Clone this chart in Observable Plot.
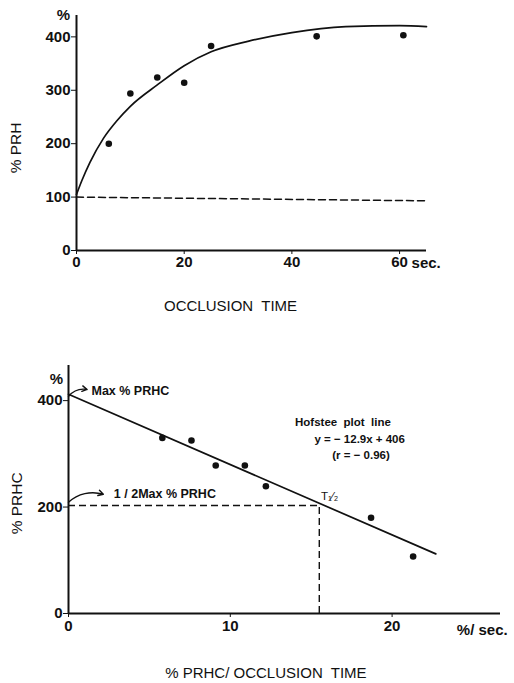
<!DOCTYPE html>
<html><head><meta charset="utf-8">
<script src="https://cdn.jsdelivr.net/npm/d3@7"></script>
<script src="https://cdn.jsdelivr.net/npm/@observablehq/plot@0.6"></script>
<style>
body{margin:0;background:#fff;}
#c svg{display:block}
</style></head><body><div id="c"></div>
<script>
// ---- Top chart: % PRH vs occlusion time ----
const occTime = [6, 10, 15, 20, 25, 44.6, 60.7];
const prhValues = [200, 294, 324, 314, 383, 401, 403];
const fitTime = [0, 1, 2.5, 5, 7.5, 10, 15, 20, 25, 32, 40, 50, 60, 65];
const fitPrh = [105, 131, 165, 210, 243, 270, 310, 346, 372, 392, 408, 419, 421, 419];
const baseTime = [0, 65];
const basePrh = [100, 93];
const topXTicks = [0, 20, 40, 60];
const topYTicks = [0, 100, 200, 300, 400];

// ---- Bottom chart: Hofstee plot ----
const rateValues = [5.8, 7.6, 9.1, 10.9, 12.2, 18.7, 21.3];
const prhcValues = [330, 325, 278, 278, 239, 180, 107];
const hofX = [0, 22.7];
const hofY = [412, 112];
const halfMax = 203;
const tHalf = 15.5;
const botXTicks = [0, 10, 20];
const botYTicks = [0, 200, 400];

const FONT = '"Liberation Sans", Arial, Helvetica, sans-serif';
const INK = "#111";

const topDots = occTime.map((t, i) => ({x: t, y: prhValues[i]}));
const topFit = fitTime.map((t, i) => ({x: t, y: fitPrh[i]}));
const topBase = baseTime.map((t, i) => ({x: t, y: basePrh[i]}));

const tickText = {fontSize: 15, fontWeight: "bold", tickFormat: d => d, label: null};

const topPlot = Plot.plot({
  width: 514, height: 335,
  marginLeft: 76, marginRight: 88, marginTop: 15, marginBottom: 85,
  x: {domain: [0, 65], axis: null},
  y: {domain: [0, 440], axis: null},
  style: {fontFamily: FONT, color: INK, background: "#fff", overflow: "visible"},
  marks: [
    Plot.axisX({ticks: topXTicks, tickSize: 4, tickPadding: 2, ...tickText}),
    Plot.axisY({ticks: topYTicks, tickSize: 5, tickPadding: 1, ...tickText}),
    Plot.ruleY([0], {x1: 0, x2: 65, stroke: INK, strokeWidth: 2}),
    Plot.ruleX([0], {y1: 0, y2: 440, stroke: INK, strokeWidth: 2}),
    Plot.line(topBase, {x: "x", y: "y", stroke: INK, strokeWidth: 1.5, strokeDasharray: "7,4"}),
    Plot.line(topFit, {x: "x", y: "y", stroke: INK, strokeWidth: 1.7, curve: "monotone-x"}),
    Plot.dot(topDots, {x: "x", y: "y", r: 3.3, fill: INK, stroke: "none"}),
    Plot.text([60], {x: d => d, y: 0, text: () => "sec.", dx: 12, dy: 13, textAnchor: "start", fontSize: 15, fontWeight: "bold"}),
    Plot.text([0], {x: d => d, y: 440, text: () => "%", dx: -13, dy: 0, fontSize: 15, fontWeight: "bold"}),
    Plot.text([0], {x: d => d, y: 192, text: () => "% PRH", dx: -60, rotate: -90, fontSize: 15.5, letterSpacing: 0.5}),
    Plot.text([28.6], {x: d => d, y: 0, text: () => "OCCLUSION  TIME", dy: 56, fontSize: 15, letterSpacing: 1})
  ]
});

const botDots = rateValues.map((r, i) => ({x: r, y: prhcValues[i]}));
const hofLine = hofX.map((r, i) => ({x: r, y: hofY[i]}));
const annBold = {textAnchor: "start", fontWeight: "bold"};

const botPlot = Plot.plot({
  width: 514, height: 348,
  marginLeft: 68, marginRight: 14, marginTop: 30, marginBottom: 70,
  x: {domain: [0, 26.7], axis: null},
  y: {domain: [0, 466], axis: null},
  style: {fontFamily: FONT, color: INK, background: "#fff", overflow: "visible"},
  marks: [
    Plot.axisX({ticks: botXTicks, tickSize: 4, tickPadding: 3, ...tickText}),
    Plot.axisY({ticks: botYTicks, tickSize: 5, tickPadding: 1, ...tickText}),
    Plot.ruleY([0], {x1: 0, x2: 26.7, stroke: INK, strokeWidth: 2}),
    Plot.ruleX([0], {y1: 0, y2: 466, stroke: INK, strokeWidth: 2}),
    Plot.ruleY([halfMax], {x1: 0, x2: tHalf, stroke: INK, strokeWidth: 1.4, strokeDasharray: "7,4"}),
    Plot.ruleX([tHalf], {y1: 0, y2: halfMax, stroke: INK, strokeWidth: 1.4, strokeDasharray: "7,4"}),
    Plot.line(hofLine, {x: "x", y: "y", stroke: INK, strokeWidth: 1.7}),
    Plot.dot(botDots, {x: "x", y: "y", r: 3.3, fill: INK, stroke: "none"}),
    Plot.arrow([{x1: 0, y1: 408, x2: 1.15, y2: 421}], {x1: "x1", y1: "y1", x2: "x2", y2: "y2", bend: 30, headLength: 6, stroke: INK, strokeWidth: 1.4}),
    Plot.arrow([{x1: 0, y1: 209, x2: 2.15, y2: 224}], {x1: "x1", y1: "y1", x2: "x2", y2: "y2", bend: 30, headLength: 6, stroke: INK, strokeWidth: 1.4}),
    Plot.text([{x: 1.42, y: 418}], {x: "x", y: "y", text: () => "Max % PRHC", fontSize: 12.5, ...annBold}),
    Plot.text([{x: 2.8, y: 224}], {x: "x", y: "y", text: () => "1 / 2Max % PRHC", fontSize: 12.5, ...annBold}),
    Plot.text([{x: 14.0, y: 360}], {x: "x", y: "y", text: () => "Hofstee  plot  line", fontSize: 11.5, letterSpacing: 0.5, ...annBold}),
    Plot.text([{x: 15.2, y: 328}], {x: "x", y: "y", text: () => "y = \u2212 12.9x + 406", fontSize: 11.5, letterSpacing: 0.5, ...annBold}),
    Plot.text([{x: 16.3, y: 297}], {x: "x", y: "y", text: () => "(r = \u2212 0.96)", fontSize: 11.5, letterSpacing: 0.5, ...annBold}),
    Plot.text([{x: 15.6, y: 220}], {x: "x", y: "y", text: () => "T\u2081\u2044\u2082", fontSize: 11.5, textAnchor: "start"}),
    Plot.text([0], {x: d => d, y: 440, text: () => "%", dx: -12, dy: 0, fontSize: 15, fontWeight: "bold"}),
    Plot.text([0], {x: d => d, y: 207, text: () => "% PRHC", dx: -51, rotate: -90, fontSize: 15.5, letterSpacing: 0.5}),
    Plot.text([24.0], {x: d => d, y: 0, text: () => "%/ sec.", dy: 17, textAnchor: "start", fontSize: 15, fontWeight: "bold"}),
    Plot.text([12.2], {x: d => d, y: 0, text: () => "% PRHC/ OCCLUSION  TIME", dy: 60, fontSize: 15, letterSpacing: 1})
  ]
});

const c = document.getElementById("c");
c.appendChild(topPlot);
c.appendChild(botPlot);
</script>
</body></html>
